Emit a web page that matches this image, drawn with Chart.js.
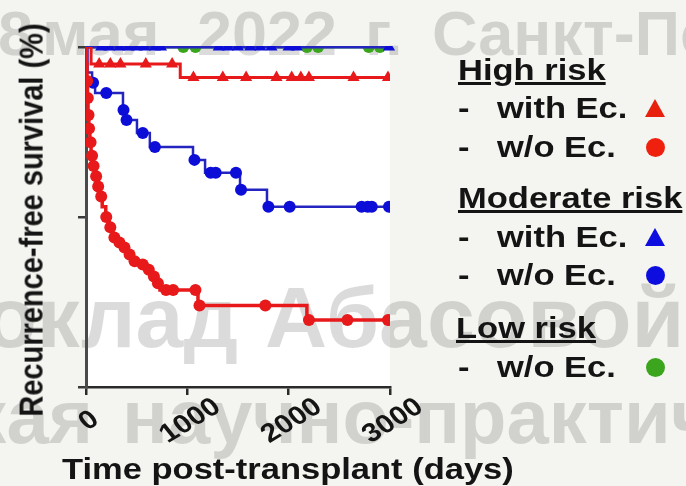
<!DOCTYPE html>
<html>
<head>
<meta charset="utf-8">
<script src="https://cdn.jsdelivr.net/npm/chart.js@4.4.1/dist/chart.umd.min.js"></script>
<style>
  body { margin: 0; background: #f4f4f0; }
  #wrap { position: relative; width: 686px; height: 486px; overflow: hidden; }
  canvas { position: absolute; left: 0; top: 0; }
  .t {
    position: absolute;
    font: bold 30px "Liberation Sans", Arial, sans-serif;
    line-height: 30px;
    white-space: nowrap;
    color: #141414;
    transform: scaleX(1.15);
    transform-origin: 0 50%;
  }
  .u { text-decoration: underline; text-decoration-thickness: 3px; text-underline-offset: 2px; }
  .tri { position: absolute; width: 0; height: 0; border-left: 10px solid transparent; border-right: 10px solid transparent; }
  .dot { position: absolute; width: 19px; height: 19px; border-radius: 50%; }
  #ytitle {
    position: absolute; left: 0; top: 0;
    font: bold 29px "Liberation Sans", Arial, sans-serif;
    line-height: 30px; white-space: nowrap; color: #141414;
    transform-origin: 0 0;
    transform: translate(31px, 220px) scaleX(1.15) rotate(-90deg) translate(-50%, -50%);
  }
</style>
</head>
<body>
<div id="wrap">
  <canvas id="myChart" width="686" height="486"></canvas>

  <div id="ytitle">Recurrence-free survival (%)</div>
  <div class="t" style="left:62px; top:454px;">Time post-transplant (days)</div>

  <div class="t u" style="left:458px; top:55px;">High risk</div>
  <div class="t" style="left:458px; top:93px;">-</div>
  <div class="t" style="left:497px; top:93px;">with Ec.</div>
  <div class="tri" style="left:645px; top:99px; border-bottom:18px solid #e8210f;"></div>
  <div class="t" style="left:458px; top:132px;">-</div>
  <div class="t" style="left:497px; top:132px;">w/o Ec.</div>
  <div class="dot" style="left:646px; top:138px; background:#f0200f;"></div>

  <div class="t u" style="left:458px; top:183px;">Moderate risk</div>
  <div class="t" style="left:458px; top:222px;">-</div>
  <div class="t" style="left:497px; top:222px;">with Ec.</div>
  <div class="tri" style="left:645px; top:228px; border-bottom:18px solid #0d0de0;"></div>
  <div class="t" style="left:458px; top:260px;">-</div>
  <div class="t" style="left:497px; top:260px;">w/o Ec.</div>
  <div class="dot" style="left:646px; top:266px; background:#0d0de0;"></div>

  <div class="t u" style="left:456px; top:313px;">Low risk</div>
  <div class="t" style="left:458px; top:352px;">-</div>
  <div class="t" style="left:497px; top:352px;">w/o Ec.</div>
  <div class="dot" style="left:646px; top:358px; background:#3ca51e;"></div>
</div>

<script>
// [day, survival %] — step points of each Kaplan-Meier curve
const highNoEcSteps = [[0, 100], [5, 95], [10, 90], [15, 85], [20, 80], [28, 76], [38, 72], [50, 68], [65, 65],
  [85, 62], [105, 59], [130, 56], [160, 53], [195, 50], [230, 47], [265, 44], [300, 42.5], [350, 41], [405, 39],
  [440, 37], [520, 36], [600, 34.5], [650, 32.5], [690, 30.5], [730, 28.5], [1105, 24], [2180, 19.7], [3000, 19.7]];
const highEcSteps = [[0, 100], [50, 95], [930, 91], [3000, 91]];
const modNoEcSteps = [[0, 100], [15, 92.5], [60, 89.5], [90, 86.5], [365, 81.5], [380, 78.5], [503, 74.7],
  [630, 70.6], [1056, 66.8], [1175, 63], [1520, 58], [1786, 53], [3000, 53]];
const modEcSteps = [[0, 100], [3000, 100]];
const lowNoEcSteps = [[0, 100], [3000, 100]];

// censored observations
const highNoEcCensor = [[12, 90], [18, 85], [25, 80], [30, 76], [45, 72], [60, 68], [75, 65], [100, 62], [120, 59],
  [150, 56], [200, 50], [240, 47], [280, 44], [330, 42.5], [380, 41], [430, 39], [480, 37], [560, 36], [620, 34.5],
  [670, 32.5], [710, 30.5], [790, 28.5], [860, 28.5], [1080, 28.5], [1120, 24], [1770, 24], [2200, 19.7],
  [2580, 19.7], [2980, 19.7]];
const highEcCensor = [[130, 95], [240, 95], [340, 95], [590, 95], [850, 95], [1060, 91], [1350, 91], [1580, 91],
  [1880, 91], [2030, 91], [2120, 91], [2200, 91], [2640, 91], [2980, 91]];
const modNoEcCensor = [[70, 89.5], [200, 86.5], [370, 81.5], [400, 78.5], [560, 74.7], [680, 70.6], [1070, 66.8],
  [1230, 63], [1280, 63], [1480, 63], [1530, 58], [1800, 53], [2010, 53], [2720, 53], [2780, 53], [2820, 53], [2990, 53]];
const modEcCensor = [[150, 100], [230, 100], [330, 100], [420, 100], [500, 100], [580, 100], [680, 100], [740, 100],
  [1310, 100], [1400, 100], [1500, 100], [1620, 100], [1720, 100], [1830, 100], [2000, 100], [2080, 100], [2990, 100]];
const lowNoEcCensor = [[960, 100], [1080, 100], [2180, 100], [2290, 100], [2790, 100], [2900, 100]];

const xTicks = [0, 1000, 2000, 3000];

const RED = "#e8191a";
const BLUE_LINE = "#2424c0";
const BLUE = "#0d0dd8";
const GREEN = "#3ca51e";
const topClip = { left: 10, top: 1, right: 12, bottom: 10 };

function curve(steps, color, width) {
  return { data: steps, borderColor: color, borderWidth: width, stepped: "before",
    pointRadius: 0, fill: false, tension: 0 };
}
function marks(points, color, style, radius) {
  return { data: points, showLine: false, pointStyle: style, pointRadius: radius,
    backgroundColor: color, borderColor: color, borderWidth: 0 };
}

// background, plot area and watermark
const backdrop = {
  id: "backdrop",
  beforeDraw(chart) {
    const { ctx, chartArea: a } = chart;
    ctx.save();
    ctx.fillStyle = "#f4f4f0";
    ctx.fillRect(0, 0, chart.width, chart.height);
    ctx.fillStyle = "#ffffff";
    ctx.fillRect(a.left, a.top, a.right - a.left, a.bottom - a.top);

    ctx.fillStyle = "rgba(0,0,0,0.14)";
    ctx.textBaseline = "alphabetic";
    ctx.font = 'bold 63px "Liberation Sans", Arial, sans-serif';
    ctx.fillText("8", -2, 55);
    ctx.fillText("мая", 42, 55);
    ctx.fillText("2022", 197, 55);
    ctx.fillText("г.", 365, 55);
    ctx.fillText("Санкт-Петербург", 432, 55);

    ctx.font = 'bold 86px "Liberation Sans", Arial, sans-serif';
    ctx.textAlign = "right";
    ctx.fillText("Доклад", 238, 347);
    ctx.textAlign = "left";
    ctx.fillText("Абасовой", 265, 347);

    ctx.font = 'bold 76px "Liberation Sans", Arial, sans-serif';
    ctx.textAlign = "right";
    ctx.fillText("ская", 93, 443);
    ctx.textAlign = "left";
    ctx.fillText("научно-практическая", 122, 443);
    ctx.restore();
  }
};

// rotated, slightly stretched x tick labels
const xLabels = {
  id: "xLabels",
  afterDraw(chart) {
    const { ctx, scales: { x } } = chart;
    ctx.save();
    ctx.fillStyle = "#141414";
    ctx.font = 'bold 26px "Liberation Sans", Arial, sans-serif';
    ctx.textAlign = "center";
    ctx.textBaseline = "middle";
    xTicks.forEach((v) => {
      ctx.save();
      ctx.translate(x.getPixelForValue(v) + 3, 421);
      ctx.scale(1.15, 1);
      ctx.rotate(-35 * Math.PI / 180);
      ctx.fillText(String(v), 0, 0);
      ctx.restore();
    });
    ctx.restore();
  }
};

const ctx = document.getElementById("myChart");
new Chart(ctx, {
  type: "line",
  data: {
    datasets: [
      marks(highNoEcCensor, RED, "circle", 6),
      curve(highNoEcSteps, RED, 3.5),
      marks(highEcCensor, RED, "triangle", 7),
      curve(highEcSteps, RED, 3),
      marks(modNoEcCensor, BLUE, "circle", 6),
      curve(modNoEcSteps, BLUE_LINE, 2.5),
      { ...marks(modEcCensor, BLUE, "triangle", 7), clip: topClip },
      { ...curve(modEcSteps, BLUE_LINE, 3), clip: topClip },
      { ...marks(lowNoEcCensor, GREEN, "circle", 6), clip: topClip },
      { ...curve(lowNoEcSteps, GREEN, 3), clip: topClip },
    ],
  },
  options: {
    responsive: false,
    animation: false,
    layout: { padding: { left: 78, top: 47, right: 296, bottom: 91 } },
    plugins: { legend: { display: false }, tooltip: { enabled: false } },
    scales: {
      x: {
        type: "linear",
        min: 0,
        max: 3000,
        afterBuildTicks: (s) => { s.ticks = xTicks.map((v) => ({ value: v })); },
        afterFit: (s) => { s.height = 8; },
        ticks: { display: false },
        grid: { drawOnChartArea: false, drawTicks: true, tickLength: 8, color: "#2a2a2a", lineWidth: 2.5 },
        border: { display: true, color: "#2a2a2a", width: 2.5 },
      },
      y: {
        min: 0,
        max: 100,
        ticks: { display: false, stepSize: 50 },
        afterFit: (s) => { s.width = 8; },
        grid: { drawOnChartArea: false, drawTicks: true, tickLength: 8, color: "#3a3a3a", lineWidth: 2.5 },
        border: { display: true, color: "#4a4a4a", width: 3 },
      },
    },
  },
  plugins: [backdrop, xLabels],
});
</script>
</body>
</html>
